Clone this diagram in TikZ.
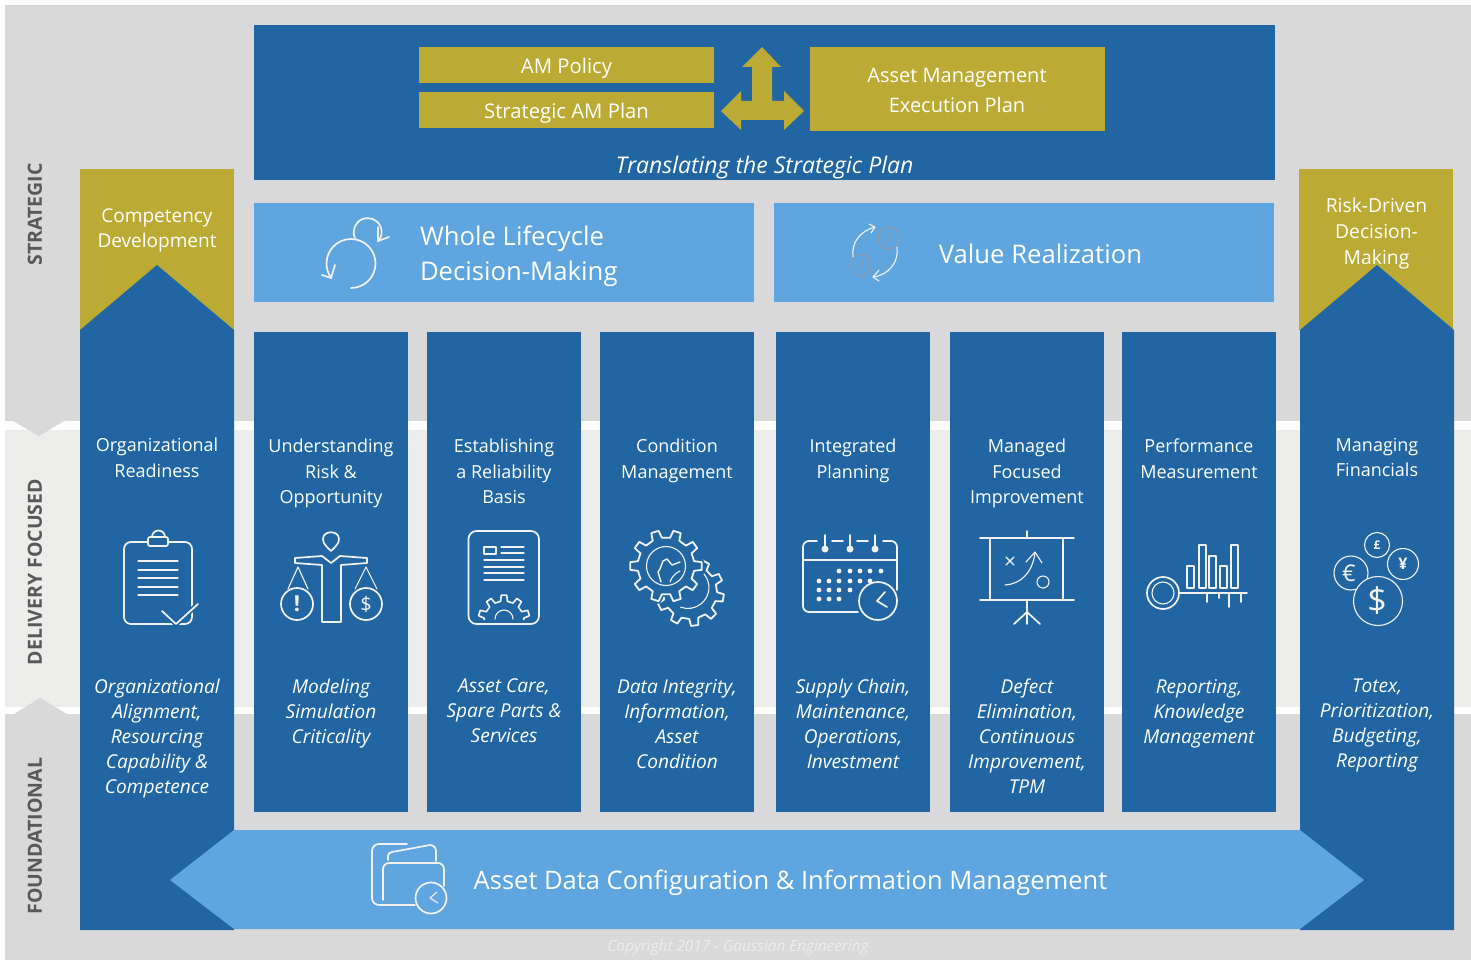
\documentclass[tikz,border=0pt]{standalone}
\usepackage{fontspec}
\setmainfont{Open Sans}
\definecolor{bar}{HTML}{2166A3}
\definecolor{lite}{HTML}{5FA5E0}
\definecolor{gold}{HTML}{BBAA33}
\definecolor{bandA}{HTML}{D9D9D9}
\definecolor{bandB}{HTML}{EDEDEB}
\definecolor{side}{HTML}{595959}
\definecolor{ico}{HTML}{F2F2F2}
\definecolor{coin}{HTML}{8A9DB2}
\newcommand\mystrut{\rule{0pt}{14pt}}
\newcommand\gearicon[7][]{%
 \draw[ico,line width=1.8pt,line join=round,shift={(#2,#3)},#1]
  ({#7-0.27*360/#4}:#6)
  \foreach \k in {1,...,#4}{
   -- ({#7+(\k-1-0.17)*360/#4}:#5) -- ({#7+(\k-1+0.17)*360/#4}:#5)
   -- ({#7+(\k-1+0.27)*360/#4}:#6) -- ({#7+(\k-1+0.73)*360/#4}:#6)}
  -- cycle;}
\tikzset{
 txt/.style={inner sep=0pt,outer sep=0pt,text=white,align=center,anchor=north,
   execute at begin node=\mystrut},
 lab/.style={txt,font=\fontsize{18}{25.5}\selectfont},
 ital/.style={txt,font=\fontsize{19.1}{25}\selectfont\itshape},
 big/.style={txt,font=\fontsize{25.7}{35}\selectfont},
 sidelab/.style={inner sep=0pt,text=side,rotate=90,font=\fontsize{19.5}{20}\selectfont\bfseries},
 ic/.style={ico,line width=1.7pt,line cap=round,line join=round},
 thin ic/.style={ico,line width=1.1pt,line cap=round,line join=round},
 barfill/.style={fill=bar},
}
\begin{document}
\begin{tikzpicture}[x=1pt,y=-1pt]
\useasboundingbox (0,0) rectangle (1471,960);
\fill[white] (0,0) rectangle (1471,960);
% bands
\fill[bandA] (5,5) rectangle (1471,421);
\fill[bandB] (5,430) rectangle (1471,707);
\fill[bandA] (5,714) rectangle (1471,960);
\fill[white] (5,421) rectangle (67,430);
\fill[bandA] (13,421) -- (39,436) -- (64,421) -- cycle;
\fill[bandA] (14,714) -- (40,698) -- (67,714) -- cycle;
% side labels
\node[sidelab] (s1) at (35,214.5) {STRATEGIC};
\node[sidelab] (s2) at (35,572) {DELIVERY FOCUSED};
\node[sidelab] (s3) at (35,836) {FOUNDATIONAL};
% top panel
\fill[bar] (254,25) rectangle (1275,180);
\fill[gold] (419,47) rectangle (714,83);
\fill[gold] (419,92) rectangle (714,128);
\fill[gold] (810,47) rectangle (1105,131);
\fill[gold] (762,47) -- (781,67) -- (772,67) -- (772,101) -- (784,101) -- (784,91) -- (804,111)
  -- (784,130) -- (784,120) -- (741,120) -- (741,130) -- (721,111) -- (741,91) -- (741,101)
  -- (752,101) -- (752,67) -- (742,67) -- cycle;
\node[lab,font=\fontsize{20.3}{25}\selectfont] (p1) at (566.5,58) {AM Policy};
\node[lab,font=\fontsize{20.3}{25}\selectfont] (p2) at (566.5,103) {Strategic AM Plan};
\node[lab,font=\fontsize{20}{30}\selectfont] (p3) at (957,68) {Asset Management\\Execution Plan};
\node[txt,font=\fontsize{23}{25}\selectfont\itshape] (p4) at (764.5,156.5) {Translating the Strategic Plan};
% light panels
\fill[lite] (254,203) rectangle (754,302);
\fill[lite] (774,203) rectangle (1274,302);
\node[big,align=left,anchor=north west] (w1) at (420,225.5) {Whole Lifecycle\\Decision-Making};
\node[big] (w2) at (1040.5,244) {Value Realization};
% lifecycle icon
\draw[ic] (351,288) arc[start angle=270,end angle=577,radius=24.5pt];
\draw[ic] (322,275) -- (331,278) -- (335,265);
\draw[ic] (355,238) arc[start angle=205,end angle=-42,radius=14pt];
\draw[ic] (378,227) -- (378,241) -- (389,237);
% value icon
\draw[thin ic] (853,257) .. controls (851,243) and (860,231) .. (875,227);
\draw[thin ic] (869,224) -- (875,227) -- (871,233);
\draw[thin ic] (897,247) .. controls (899,262) and (889,275) .. (873,277);
\draw[thin ic] (879,270) -- (873,277) -- (879,281);
\draw[draw=coin,line width=1.3pt] (889,238) circle[radius=11pt];
\draw[draw=coin,line width=1.3pt] (861,265) circle[radius=10.5pt];
\node[inner sep=0pt,text=coin,font=\fontsize{12}{12}\selectfont] (c1) at (889,238) {\$};
\node[inner sep=0pt,text=coin,font=\fontsize{12}{12}\selectfont] (c2) at (861,265) {€};
% gold caps
\fill[gold] (80,169) rectangle (234,330);
\fill[gold] (1299,169) rectangle (1453,330);
% pillars
\fill[bar] (80,330) -- (157,265) -- (234,330) -- (234,930) -- (80,930) -- cycle;
\fill[bar] (1300,330) -- (1377,265) -- (1454,330) -- (1454,930) -- (1300,930) -- cycle;
\foreach \a in {254,427,600,776,950,1122}{\fill[bar] (\a,332) rectangle ++(154,480);}
% bottom arrow
\fill[lite] (170,880) -- (234,830) -- (1300,830) -- (1364,880) -- (1300,929) -- (234,929) -- cycle;
\node[big,font=\fontsize{25.5}{35}\selectfont] (b1) at (790.5,870) {Asset Data Configuration \& Information Management};
% cap texts
\node[lab,font=\fontsize{19}{25}\selectfont] (k1) at (157,209) {Competency\\Development};
\node[lab,font=\fontsize{19.3}{26}\selectfont] (k2) at (1376.5,198) {Risk-Driven\\Decision-\\Making};
% pillar headings
\node[lab] (h1) at (157,438) {Organizational\\Readiness};
\node[lab] (h2) at (331,439) {Understanding\\Risk \&\\Opportunity};
\node[lab] (h3) at (504,439) {Establishing\\a Reliability\\Basis};
\node[lab] (h4) at (677,439) {Condition\\Management};
\node[lab] (h5) at (853,439) {Integrated\\Planning};
\node[lab] (h6) at (1027,439) {Managed\\Focused\\Improvement};
\node[lab] (h7) at (1199,439) {Performance\\Measurement};
\node[lab] (h8) at (1377,438) {Managing\\Financials};
% pillar captions
\node[ital] (i1) at (157,679) {Organizational\\Alignment,\\Resourcing\\Capability \&\\Competence};
\node[ital] (i2) at (331,679) {Modeling\\Simulation\\Criticality};
\node[ital] (i3) at (504,679) {Asset Care,\\Spare Parts \&\\Services};
\node[ital] (i4) at (677,679) {Data Integrity,\\Information,\\Asset\\Condition};
\node[ital] (i5) at (853,679) {Supply Chain,\\Maintenance,\\Operations,\\Investment};
\node[ital] (i6) at (1027,679) {Defect\\Elimination,\\Continuous\\Improvement,\\TPM};
\node[ital] (i7) at (1199,679) {Reporting,\\Knowledge\\Management};
\node[ital] (i8) at (1377,679) {Totex,\\Prioritization,\\Budgeting,\\Reporting};
% icon 1 clipboard
\draw[ic] (148,542) -- (131,542) arc[start angle=90,end angle=180,radius=7pt] -- (124,617)
  arc[start angle=180,end angle=270,radius=7pt] -- (185,624) arc[start angle=270,end angle=360,radius=7pt] -- (192,549)
  arc[start angle=0,end angle=90,radius=7pt] -- (168,542);
\draw[ic,rounded corners=2pt] (148,546) -- (148,537) -- (168,537) -- (168,546) -- cycle;
\draw[ic] (152,537) arc[start angle=180,end angle=0,radius=6.5pt];
\foreach \y in {561,570,578,587,595}{\draw[thin ic] (138,\y) -- (178,\y);}
\draw[bar,line width=5pt] (162,611) -- (176,624) -- (198,604);
\draw[ic] (162,611) -- (176,624) -- (198,604);
% icon 2 person with scales
\draw[ic] (331,551) .. controls (327,547) and (323,544) .. (323,539) .. controls (323,530) and (339,530) .. (339,539)
  .. controls (339,544) and (335,547) .. (331,551) -- cycle;
\draw[ic] (295,558) -- (322,556) -- (331,563) -- (340,556) -- (367,558) -- (367,563) -- (341,565) -- (341,622)
  -- (322,622) -- (322,565) -- (295,563) -- cycle;
\draw[thin ic] (288,589) -- (298,567) -- (308,589);
\draw[thin ic] (355,589) -- (366,567) -- (377,589);
\draw[ic] (297,604) circle[radius=16pt];
\draw[ic] (366,604) circle[radius=16pt];
\node[inner sep=0pt,text=ico,font=\fontsize{22}{22}\selectfont\bfseries] (r1) at (297,604) {!};
\node[inner sep=0pt,text=ico,font=\fontsize{20}{20}\selectfont] (r2) at (366,604) {\$};
% icon 3 document with gear
\draw[ic,rounded corners=8pt] (468.5,531) rectangle (539,624);
\draw[thin ic] (484,547) rectangle (496,554);
\draw[thin ic] (501,547) -- (524,547);
\draw[thin ic] (501,553) -- (524,553);
\foreach \y in {560,567,573,580}{\draw[thin ic] (484,\y) -- (524,\y);}
\begin{scope}
\clip (470,590) rectangle (537,619.5);
\gearicon[line width=1.6pt]{504}{621}{10}{26}{20}{-90}
\end{scope}
\draw[thin ic] (495,619) arc[start angle=180,end angle=0,radius=9pt];
% icon 4 gears
\gearicon{690}{592}{10}{34}{27}{10}
\draw[thin ic] (704,574) arc[start angle=40,end angle=-110,radius=21pt];
\gearicon[fill=bar,draw=bar,line width=5pt]{666}{566}{10}{36}{28.5}{0}
\gearicon[fill=bar]{666}{566}{10}{36}{28.5}{0}
\draw[thin ic] (666,566) circle[radius=19.5pt];
\draw[ic,line width=1.4pt] (680,562) -- (672,565) -- (667,559) -- (663,561) -- (660,569) -- (658,572) -- (661,582);
\draw[thin ic] (670,582) .. controls (672,576) and (676,573) .. (680,571);
% icon 5 calendar
\draw[ic] (817,541) -- (809,541) arc[start angle=90,end angle=180,radius=6pt] -- (803,606)
  arc[start angle=180,end angle=270,radius=6pt] -- (858,612);
\draw[ic] (832,541) -- (843,541);
\draw[ic] (857,541) -- (868,541);
\draw[ic] (883,541) -- (891,541) arc[start angle=90,end angle=0,radius=6pt] -- (897,590);
\draw[ic] (803,560) -- (897,560);
\foreach \x in {825,850,875}{\draw[ic] (\x,535) -- (\x,548); \fill[ico] (\x,549) circle[radius=3.5pt];}
\foreach \x in {839,850,860,870,881}{\fill[ico] (\x,571) circle[radius=2.4pt];}
\foreach \x in {819,829,839,850,860,870}{\fill[ico] (\x,581) circle[radius=2.4pt];}
\foreach \x in {819,829,839,850}{\fill[ico] (\x,590) circle[radius=2.4pt];}
\foreach \x in {819,829,839}{\fill[ico] (\x,599) circle[radius=2.4pt];}
\draw[ic,fill=bar] (878,601) circle[radius=19pt];
\draw[ic] (885,592) -- (877,601) -- (887,607);
% icon 6 presentation
\draw[ic] (980,538) -- (1074,538);
\draw[ic] (980,600) -- (1074,600);
\draw[ic] (990,538) -- (990,600);
\draw[ic] (1063,538) -- (1063,600);
\draw[ic] (1027,531) -- (1027,538);
\draw[ic] (1027,600) -- (1027,624);
\draw[ic] (1014,624) -- (1027,612) -- (1040,624);
\draw[thin ic] (1006,557) -- (1014,565);
\draw[thin ic] (1006,565) -- (1014,557);
\draw[thin ic] (1005,585) .. controls (1020,584) and (1032,574) .. (1035,553);
\draw[thin ic] (1026,562) -- (1035,552) -- (1042,563);
\draw[thin ic] (1043,582) circle[radius=6pt];
% icon 7 key and bars
\draw[ic] (1163,593) circle[radius=16pt];
\draw[thin ic] (1163,593) circle[radius=11pt];
\draw[ic] (1179,593) -- (1247,593);
\draw[ic] (1207,593) -- (1207,602);
\draw[ic] (1219,593) -- (1219,598);
\draw[ic] (1229,593) -- (1229,607);
\draw[ic] (1241,593) -- (1241,602);
\foreach \a/\t in {1187/566,1199/545,1209/556,1220/566,1231/545}{\draw[thin ic] (\a,588) rectangle (\a+7,\t);}
% icon 8 coins
\draw[thin ic,fill=bar] (1351,573) circle[radius=17pt];
\draw[thin ic] (1377,545) circle[radius=12.5pt];
\draw[thin ic] (1403,564) circle[radius=15.5pt];
\draw[thin ic,fill=bar] (1378,601) circle[radius=24.5pt];
\node[inner sep=0pt,text=ico,font=\fontsize{23}{22}\selectfont] (m1) at (1349,573) {€};
\node[inner sep=0pt,text=ico,font=\fontsize{12}{12}\selectfont\bfseries] (m2) at (1377,545) {£};
\node[inner sep=0pt,text=ico,font=\fontsize{16}{16}\selectfont\bfseries] (m3) at (1403,564) {¥};
\node[inner sep=0pt,text=ico,font=\fontsize{34}{31}\selectfont] (m4) at (1377,601) {\$};
% folder icon
\draw[ic] (407,844) -- (379,844) arc[start angle=90,end angle=180,radius=7pt] -- (372,898)
  arc[start angle=180,end angle=270,radius=7pt] -- (415,905);
\draw[ic] (388,860) -- (388,856) arc[start angle=180,end angle=90,radius=4pt] -- (430,845) arc[start angle=90,end angle=0,radius=6pt] -- (436,861);
\draw[ic] (383,900) -- (383,869) arc[start angle=180,end angle=90,radius=6pt] -- (438,863) arc[start angle=90,end angle=0,radius=6pt] -- (444,886);
\draw[ic,fill=lite] (431,898) circle[radius=15.5pt];
\draw[thin ic] (437,892) -- (430,898) -- (438,903);
% copyright
\node[inner sep=0pt,text=white!93!black,font=\fontsize{15.3}{15}\selectfont\itshape] (cr) at (738,947.5) {Copyright 2017 - Gaussian Engineering};
\end{tikzpicture}
\end{document}
